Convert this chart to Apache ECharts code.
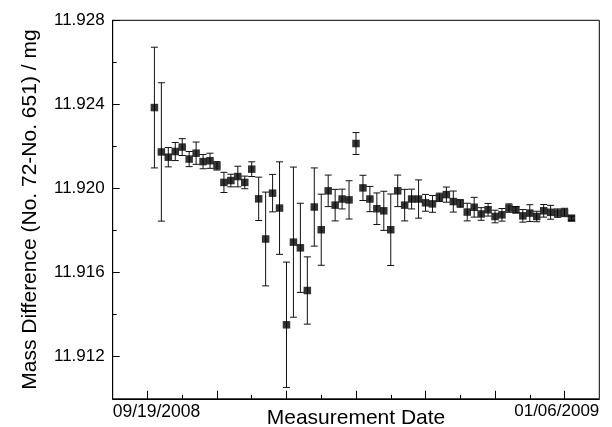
<!DOCTYPE html>
<html>
<head>
<meta charset="utf-8">
<script src="https://cdn.jsdelivr.net/npm/echarts@6/dist/echarts.min.js"></script>
<style>html,body{margin:0;padding:0;background:#fff}#c{width:612px;height:427px}</style>
</head>
<body>
<div id="c"></div>
<script>
// measurement index (points are plotted in order of measurement)
const measurementIndex = [1,2,3,4,5,6,7,8,9,10,11,12,13,14,15,16,17,18,19,20,21,22,23,24,25,26,27,28,29,30,31,32,33,34,35,36,37,38,39,40,41,42,43,44,45,46,47,48,49,50,51,52,53,54,55,56,57,58,59,60,61];
// mass difference values / mg
const massDiff = [11.92385,11.92174,11.92149,11.92176,11.92197,11.92140,11.92168,11.92128,11.92132,11.92108,
  11.92029,11.92038,11.92057,11.92029,11.92092,11.91951,11.91760,11.91978,11.91907,11.91352,
  11.91745,11.91718,11.91515,11.91912,11.91804,11.91989,11.91921,11.91950,11.91946,11.92214,
  11.92003,11.91950,11.91904,11.91894,11.91804,11.91989,11.91921,11.91950,11.91950,11.91932,
  11.91927,11.91958,11.91971,11.91938,11.91929,11.91888,11.91911,11.91879,11.91899,11.91867,
  11.91875,11.91907,11.91899,11.91870,11.91883,11.91867,11.91894,11.91887,11.91883,11.91886,
  11.91859];
// symmetric uncertainty (half-length of error bar) / mg
const uncertainty = [0.00287,0.00329,0.00046,0.00043,0.00040,0.00036,0.00053,0.00034,0.00036,0.00020,
  0.00048,0.00030,0.00049,0.00030,0.00035,0.00103,0.00223,0.00089,0.00220,0.00298,
  0.00357,0.00212,0.00160,0.00186,0.00169,0.00075,0.00075,0.00047,0.00091,0.00052,
  0.00060,0.00060,0.00075,0.00093,0.00170,0.00075,0.00075,0.00047,0.00091,0.00040,
  0.00040,0.00020,0.00036,0.00050,0.00018,0.00042,0.00047,0.00030,0.00030,0.00030,
  0.00030,0.00020,0.00015,0.00030,0.00040,0.00025,0.00030,0.00033,0.00020,0.00020,
  0.00010];
const xTickLabels = ['09/19/2008', '01/06/2009'];
const yMajorTicks = [11.912, 11.916, 11.920, 11.924, 11.928];
const yMinorTicks = [11.910, 11.914, 11.918, 11.922, 11.926];
const xMajorTicks = [0, 10, 20, 30, 40, 50, 60];
const xMinorTicks = [5, 15, 25, 35, 45, 55];

const FONT = 'Liberation Sans, Arial, sans-serif';
const chart = echarts.init(document.getElementById('c'), null, {renderer: 'canvas'});

const points = measurementIndex.map((x, i) => [x, massDiff[i]]);
const bars = measurementIndex.map((x, i) => [x, massDiff[i] - uncertainty[i], massDiff[i] + uncertainty[i]]);

const baseX = {
  type: 'value', min: -5, max: 65, gridIndex: 0, position: 'bottom',
  splitLine: {show: false}
};
const baseY = {
  type: 'value', min: 11.910, max: 11.928, gridIndex: 0, position: 'left',
  splitLine: {show: false}
};

chart.setOption({
  animation: false,
  backgroundColor: '#fff',
  grid: {left: 112.7, top: 20.3, width: 486.6, height: 378.5, show: true,
         containLabel: false, outerBoundsMode: 'none',
         borderColor: '#000', borderWidth: 1, backgroundColor: 'transparent'},
  xAxis: [
    Object.assign({}, baseX, {
      name: 'Measurement Date', nameLocation: 'middle', nameGap: 9, nameMoveOverlap: false,
      nameTextStyle: {fontFamily: FONT, fontSize: 21, color: '#000'},
      axisLine: {show: true, onZero: false, lineStyle: {color: '#000', width: 1}},
      axisTick: {show: true, inside: true, length: 8, customValues: xMajorTicks, lineStyle: {color: '#000', width: 1}},
      axisLabel: {
        show: true, customValues: [-5, 65], margin: 4,
        alignMinLabel: 'left', alignMaxLabel: 'right',
        formatter: v => v < 0 ? '{a|' + xTickLabels[0] + '}' : '{b|' + xTickLabels[1] + '}',
        rich: {
          a: {fontFamily: FONT, fontSize: 17.5, color: '#000'},
          b: {fontFamily: FONT, fontSize: 17, color: '#000'}
        }
      }
    }),
    Object.assign({}, baseX, {
      axisLine: {show: false, onZero: false},
      axisTick: {show: true, inside: true, length: 4, customValues: xMinorTicks, lineStyle: {color: '#000', width: 1}},
      axisLabel: {show: false}
    })
  ],
  yAxis: [
    Object.assign({}, baseY, {
      name: 'Mass Difference (No. 72-No. 651) / mg', nameLocation: 'middle', nameGap: 72, nameMoveOverlap: false,
      nameTextStyle: {fontFamily: FONT, fontSize: 21, color: '#000'},
      axisLine: {show: true, onZero: false, lineStyle: {color: '#000', width: 1}},
      axisTick: {show: true, inside: true, length: 7, customValues: yMajorTicks, lineStyle: {color: '#000', width: 1}},
      axisLabel: {show: true, customValues: yMajorTicks, margin: 8,
        formatter: v => v.toFixed(3),
        fontFamily: FONT, fontSize: 17, color: '#000'}
    }),
    Object.assign({}, baseY, {
      axisLine: {show: false, onZero: false},
      axisTick: {show: true, inside: true, length: 4, customValues: yMinorTicks, lineStyle: {color: '#000', width: 1}},
      axisLabel: {show: false}
    })
  ],
  series: [
    {
      type: 'custom', xAxisIndex: 0, yAxisIndex: 0, z: 2,
      data: bars,
      encode: {x: 0, y: [1, 2]},
      renderItem: function (params, api) {
        const x = api.value(0);
        const lo = api.coord([x, api.value(1)]);
        const hi = api.coord([x, api.value(2)]);
        const cw = 3.5;
        const style = {stroke: '#111', lineWidth: 1, fill: null};
        return {
          type: 'group',
          children: [
            {type: 'line', shape: {x1: lo[0], y1: lo[1], x2: hi[0], y2: hi[1]}, style: style},
            {type: 'line', shape: {x1: lo[0] - cw, y1: lo[1], x2: lo[0] + cw, y2: lo[1]}, style: style},
            {type: 'line', shape: {x1: hi[0] - cw, y1: hi[1], x2: hi[0] + cw, y2: hi[1]}, style: style}
          ]
        };
      }
    },
    {
      type: 'scatter', xAxisIndex: 0, yAxisIndex: 0, z: 3,
      symbol: 'rect', symbolSize: 7.5,
      itemStyle: {color: '#000'},
      data: points
    }
  ]
});
</script>
</body>
</html>
